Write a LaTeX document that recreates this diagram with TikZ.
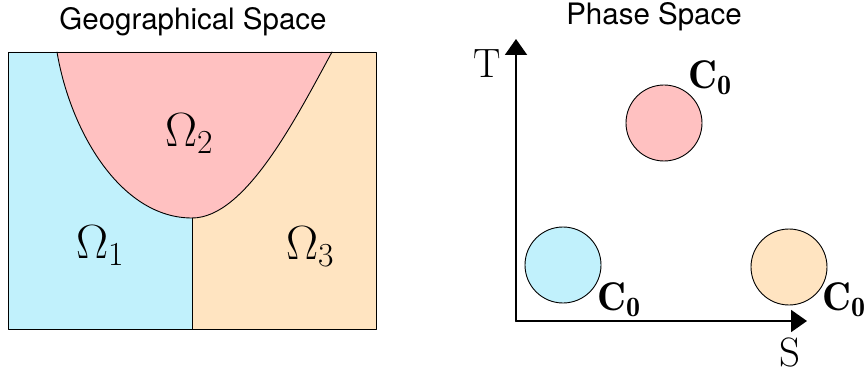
\RequirePackage{fix-cm}
\documentclass[tikz,border=0pt]{standalone}
\usepackage{fontspec}
\newfontfamily\headfont{TeX Gyre Heros}
\usetikzlibrary{arrows.meta,positioning}
\definecolor{regblue}{RGB}{193,241,252}
\definecolor{regpink}{RGB}{255,193,193}
\definecolor{regpeach}{RGB}{255,228,193}
\tikzset{
  head/.style={anchor=base,font=\headfont\fontsize{29.5}{34}\selectfont},
  omega/.style={font=\fontsize{48}{54}\selectfont},
  axlabel/.style={font=\fontsize{41}{46}\selectfont},
  clabel/.style={font=\fontsize{40}{46}\selectfont},
  axis/.style={line width=2pt,-{Triangle[length=16pt,width=22pt]}}
}

\begin{document}
\begin{tikzpicture}[x=1pt,y=-1pt,line width=0.9pt,line cap=round,line join=round]
  \useasboundingbox (0,0) rectangle (867,374);
  % geographical space
  \coordinate (NW) at (8,52);
  \coordinate (SE) at (376,329);
  \coordinate (L) at (57,52);
  \coordinate (R) at (332,52);
  \coordinate (M) at (192,218);
  \coordinate (B) at (192,329);
  \fill[regblue] (NW) -- (L) .. controls (70,130) and (120,218) .. (M) -- (B) -- (8,329) -- cycle;
  \fill[regpink] (L) .. controls (70,130) and (120,218) .. (M) .. controls (245,218) and (295,120) .. (R) -- cycle;
  \fill[regpeach] (M) .. controls (245,218) and (295,120) .. (R) -- (376,52) -- (SE) -- (B) -- cycle;
  \draw (L) .. controls (70,130) and (120,218) .. (M) .. controls (245,218) and (295,120) .. (R);
  \draw (M) -- (B);
  \draw (NW) rectangle (SE);
  \node[head] (geo) at (193,30) {Geographical Space};
  \node[omega] (om1) at (100,246) {$\Omega_1$};
  \node[omega] (om2) at (189,134) {$\Omega_2$};
  \node[omega] (om3) at (310,247) {$\Omega_3$};

  % phase space
  \coordinate (O) at (516,321);
  \coordinate (Tend) at (516,39);
  \coordinate (Send) at (807,321);
  \draw[axis] (O) -- (Tend);
  \draw[axis] (O) -- (Send);
  \node[head] (phase) at (654,25) {Phase Space};
  \node[axlabel] (T) at (487,64) {T};
  \node[axlabel] (S) at (790,352) {S};
  \coordinate (P1) at (563,265);
  \coordinate (P2) at (664,123);
  \coordinate (P3) at (789,267);
  \filldraw[fill=regblue] (P1) circle (38);
  \filldraw[fill=regpink] (P2) circle (38);
  \filldraw[fill=regpeach] (P3) circle (38);
  \node[clabel] (c1) at (619,300) {$\mathbf{C_0}$};
  \node[clabel] (c2) at (710,78) {$\mathbf{C_0}$};
  \node[clabel] (c3) at (844,300) {$\mathbf{C_0}$};
\end{tikzpicture}
\end{document}
